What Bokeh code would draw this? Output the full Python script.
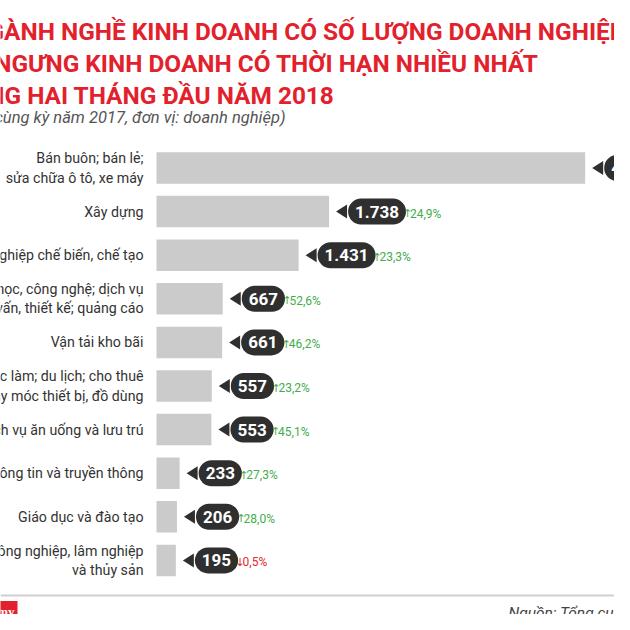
import math
from bokeh.plotting import figure
from bokeh.models import Range1d, ColumnDataSource, Label
from bokeh.core.properties import value
from bokeh.embed import file_html
from bokeh.resources import INLINE

# ---------------- data ----------------
categories = [
    "Bán buôn; bán lẻ;\nsửa chữa ô tô, xe máy",
    "Xây dựng",
    "Công nghiệp chế biến, chế tạo",
    "Khoa học, công nghệ; dịch vụ\ntư vấn, thiết kế; quảng cáo",
    "Vận tải kho bãi",
    "Dịch vụ việc làm; du lịch; cho thuê\nmáy móc thiết bị, đồ dùng",
    "Dịch vụ ăn uống và lưu trú",
    "Thông tin và truyền thông",
    "Giáo dục và đào tạo",
    "Nông nghiệp, lâm nghiệp\nvà thủy sản",
]
counts = [4317, 1738, 1431, 667, 661, 557, 553, 233, 206, 195]
changes = [None, 24.9, 23.3, 52.6, 46.2, 23.2, 45.1, 27.3, 28.0, -0.5]

title_lines = [
    "NGÀNH NGHỀ KINH DOANH CÓ SỐ LƯỢNG DOANH NGHIỆP",
    "TẠM NGƯNG KINH DOANH CÓ THỜI HẠN NHIỀU NHẤT",
    "TRONG HAI THÁNG ĐẦU NĂM 2018",
]
subtitle = "(So với cùng kỳ năm 2017, đơn vị: doanh nghiệp)"
source_text = "Nguồn: Tổng cục Thống kê"
logo_text = "VnEconomy"

# ---------------- layout ----------------
W = H = 614
BAR_X0 = 156          # px where value 0 sits
PX_PER_UNIT = 0.0993  # horizontal scale
ROW0 = 167.5          # y of first row centre
ROW_STEP = 43.6

x_start = -BAR_X0 / PX_PER_UNIT
x_end = (W - BAR_X0) / PX_PER_UNIT
y_top = -ROW0 / ROW_STEP
y_bot = (H - ROW0) / ROW_STEP

def px_y(py):
    return (py - ROW0) / ROW_STEP

FONT = "Roboto"

p = figure(width=W, height=H, output_backend="svg", toolbar_location=None,
           x_range=Range1d(x_start, x_end), y_range=Range1d(y_bot, y_top),
           min_border=0, min_border_left=0, min_border_right=0,
           min_border_top=0, min_border_bottom=0)
p.axis.visible = False
p.grid.visible = False
p.outline_line_color = None
p.background_fill_color = "white"

rows = list(range(len(categories)))

def fmt_int(v):
    return f"{v:,}".replace(",", ".")

def fmt_pct(c):
    if c is None:
        return ""
    return f"{abs(c):.1f}".replace(".", ",") + "%"

def fmt_arrow(c):
    if c is None:
        return ""
    return "↑" if c >= 0 else "↓"

NUM_SIZE = 17
def est_w(s, size=NUM_SIZE):
    w = 0
    for ch in s:
        w += 0.27 if ch in ".," else 0.562
    return w * size

num_txt = [fmt_int(v) for v in counts]
pct_txt = [fmt_pct(c) for c in changes]
arr_txt = [fmt_arrow(c) for c in changes]
pct_col = ["#43ad4a" if (c is not None and c >= 0) else "#e3262f" for c in changes]

PAD = 7
TIP = 7
BOX_GAP = 12
box_w = [est_w(t) + 2 * PAD for t in num_txt]
arr_off = [BOX_GAP + bw + 5 for bw in box_w]
pct_off = [a + 7 for a in arr_off]

src = ColumnDataSource(dict(y=rows, v=counts, lbl=categories, num=num_txt,
                            pct=pct_txt, arr=arr_txt, pc=pct_col,
                            aoff=arr_off, poff=pct_off))

bar_h = 31.5 / ROW_STEP
p.hbar(y="y", left=0, right="v", height=bar_h, source=src,
       fill_color="#cbcbcb", line_color=None)

# pointer triangles
unit = 1 / PX_PER_UNIT
xs, ys = [], []
for r, v in zip(rows, counts):
    xs.append([v + TIP * unit, v + (BOX_GAP + 6) * unit, v + (BOX_GAP + 6) * unit])
    ys.append([r, r - 7 / ROW_STEP, r + 7 / ROW_STEP])
p.patches(xs=xs, ys=ys, fill_color="#2f2f2f", line_color=None)

# callout boxes with numbers
p.text(x="v", y="y", text="num", source=src, x_offset=BOX_GAP + PAD,
       text_align="left", text_baseline="middle",
       text_font=value(FONT), text_font_style="bold", text_font_size=f"{NUM_SIZE}px",
       text_color="white", background_fill_color="#2f2f2f",
       padding=PAD, border_radius=14)

# percent change (arrow + value)
p.text(x="v", y="y", text="arr", source=src, x_offset="aoff", y_offset=2,
       text_align="left", text_baseline="middle",
       text_font=value("DejaVu Sans"), text_font_size="11px", text_color="pc")
p.text(x="v", y="y", text="pct", source=src, x_offset="poff", y_offset=2,
       text_align="left", text_baseline="middle",
       text_font=value(FONT), text_font_size="12px", text_color="pc")

# category labels
p.text(x=0, y="y", text="lbl", source=src, x_offset=-13,
       text_align="right", text_baseline="middle", text_line_height=1.2,
       text_font=value(FONT), text_font_size="14.2px", text_color="#333333")

# separator line
p.line(x=[x_start, x_end], y=[px_y(595), px_y(595)], line_color="#cfcfcf", line_width=2)

# titles (screen coords, y from bottom of canvas)
def cy(py):
    return H - py

title_right = [625, 538, 334]
title_base = [31, 63, 95]
for t, r, b in zip(title_lines, title_right, title_base):
    p.add_layout(Label(x=r, y=cy(b), x_units="screen", y_units="screen",
                       text=t, text_align="right", text_baseline="alphabetic",
                       text_font=FONT, text_font_style="bold",
                       text_font_size="24.4px", text_color="#e3212d"))

p.add_layout(Label(x=285, y=cy(117), x_units="screen", y_units="screen",
                   text=subtitle, text_align="right", text_baseline="alphabetic",
                   text_font=FONT, text_font_style="italic",
                   text_font_size="16.5px", text_color="#555555"))

p.add_layout(Label(x=508, y=cy(612), x_units="screen", y_units="screen",
                   text=source_text, text_align="left", text_baseline="alphabetic",
                   text_font=FONT, text_font_style="italic",
                   text_font_size="15.5px", text_color="#444444"))

p.add_layout(Label(x=17, y=cy(611), x_units="screen", y_units="screen",
                   text=logo_text, text_align="right", text_baseline="alphabetic",
                   text_font="Liberation Serif", text_font_style="bold",
                   text_font_size="13px", text_color="white",
                   background_fill_color="#e3212d", padding=3))

open("out.html", "w").write(file_html(p, INLINE))
